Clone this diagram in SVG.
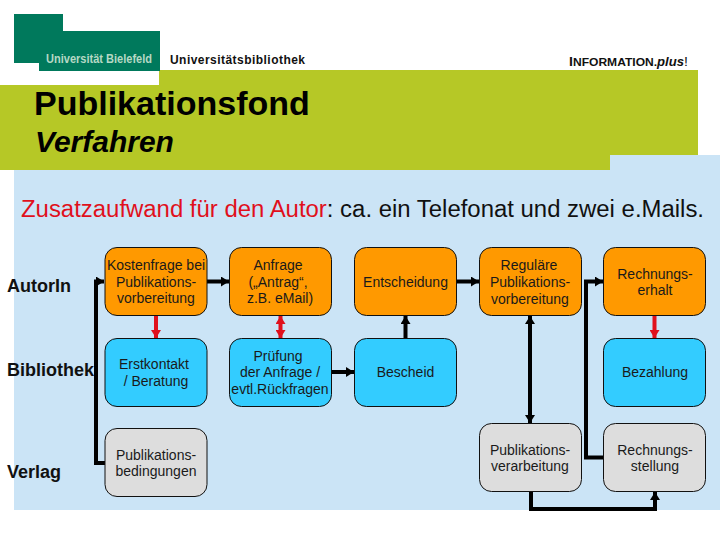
<svg xmlns="http://www.w3.org/2000/svg" width="720" height="540" viewBox="0 0 720 540">
<style>
text{font-family:"Liberation Sans",Arial,sans-serif}
.n{font-size:14px;fill:#1a1a1a;text-anchor:middle}
.o{fill:#ff9900;stroke:#111;stroke-width:1}
.b{fill:#33ccff;stroke:#111;stroke-width:1}
.g{fill:#dddddd;stroke:#111;stroke-width:1}
.l{font-size:18px;font-weight:bold;fill:#111}
.k{fill:none;stroke:#000;stroke-width:4}
.r{fill:none;stroke:#e0101c;stroke-width:4}
</style>
<defs>
<marker id="a" markerUnits="userSpaceOnUse" markerWidth="9" markerHeight="10" refX="8" refY="5" orient="auto-start-reverse"><path d="M0 0L8 5L0 10Z" fill="#000"/></marker>
<marker id="ar" markerUnits="userSpaceOnUse" markerWidth="9" markerHeight="10" refX="8" refY="5" orient="auto-start-reverse"><path d="M0 0L8 5L0 10Z" fill="#e0101c"/></marker>
</defs>
<rect width="720" height="540" fill="#fff"/>
<g id="background">
<rect x="14" y="170" width="706" height="340" fill="#cbe4f6"/>
<rect x="610" y="155" width="110" height="20" fill="#cbe4f6"/>
<path d="M0 85H159V70H698V155H610V170H0Z" fill="#b6c826"/>
<path d="M14 14H63V31H160V71H39V63H14Z" fill="#00795c"/>
</g>
<text x="46" y="63" font-size="13" font-weight="bold" fill="#b5d8c4" textLength="106" lengthAdjust="spacingAndGlyphs">Universität Bielefeld</text>
<text x="170" y="64" font-size="12" font-weight="bold" fill="#111" textLength="135">Universitätsbibliothek</text>
<text x="569" y="66" font-size="13.5" font-weight="bold" fill="#111" textLength="119" lengthAdjust="spacingAndGlyphs">I<tspan font-size="11.5">NFORMATION.</tspan><tspan font-style="italic" font-size="12.5">plus</tspan><tspan font-weight="normal">!</tspan></text>
<text x="34" y="115" font-size="34" font-weight="bold" fill="#000">Publikationsfond</text>
<text x="35" y="152" font-size="30" font-weight="bold" font-style="italic" fill="#000">Verfahren</text>
<text x="21" y="217" font-size="23" fill="#111" textLength="683" lengthAdjust="spacingAndGlyphs"><tspan fill="#e0101c">Zusatzaufwand für den Autor</tspan>: ca. ein Telefonat und zwei e.Mails.</text>
<text class="l" x="7" y="292">AutorIn</text>
<text class="l" x="7" y="376">Bibliothek</text>
<text class="l" x="7" y="478">Verlag</text>
<g id="connectors">
<path class="k" d="M105 463H96V281.500H104" marker-end="url(#a)"/>
<path class="k" d="M207 281.500H229" marker-end="url(#a)"/>
<path class="k" d="M332 372H354" marker-end="url(#a)"/>
<path class="k" d="M405.500 338V316" marker-end="url(#a)"/>
<path class="k" d="M457 281.500H479" marker-end="url(#a)"/>
<path class="k" d="M530 316V423" marker-start="url(#a)" marker-end="url(#a)"/>
<path class="k" d="M603 457.500H586V281.500H603" marker-end="url(#a)"/>
<path class="k" d="M531 492V509H655V492" marker-end="url(#a)"/>
<path class="r" d="M156 315V338" marker-end="url(#ar)"/>
<path class="r" d="M280.500 316V338" marker-start="url(#ar)" marker-end="url(#ar)"/>
<path class="r" d="M654.500 315V338" marker-end="url(#ar)"/>
</g>
<g id="n1"><rect class="o" x="105" y="247.500" width="102" height="68" rx="12"/><text class="n" x="156" y="270">Kostenfrage bei</text><text class="n" x="156" y="287">Publikations-</text><text class="n" x="156" y="303">vorbereitung</text></g>
<g id="n2"><rect class="o" x="229.500" y="247.500" width="102" height="68" rx="12"/><text class="n" x="278" y="270">Anfrage</text><text class="n" x="278" y="287">(„Antrag“,</text><text class="n" x="280" y="303">z.B. eMail)</text></g>
<g id="n3"><rect class="o" x="354.500" y="247.500" width="102" height="68" rx="12"/><text class="n" x="405.500" y="287">Entscheidung</text></g>
<g id="n4"><rect class="o" x="479.500" y="247.500" width="102" height="68" rx="12"/><text class="n" x="529" y="270">Reguläre</text><text class="n" x="530" y="287">Publikations-</text><text class="n" x="530" y="304">vorbereitung</text></g>
<g id="n5"><rect class="o" x="603.500" y="247.500" width="102" height="68" rx="12"/><text class="n" x="655" y="279">Rechnungs-</text><text class="n" x="655" y="295">erhalt</text></g>
<g id="n6"><rect class="b" x="105" y="338.500" width="102" height="68" rx="12"/><text class="n" x="154" y="369">Erstkontakt</text><text class="n" x="156" y="386">/ Beratung</text></g>
<g id="n7"><rect class="b" x="229.500" y="338.500" width="102" height="68" rx="12"/><text class="n" x="278" y="361">Prüfung</text><text class="n" x="280" y="377">der Anfrage /</text><text class="n" x="280" y="394" font-size="13.5">evtl.Rückfragen</text></g>
<g id="n8"><rect class="b" x="354.500" y="338.500" width="102" height="68" rx="12"/><text class="n" x="405.500" y="377">Bescheid</text></g>
<g id="n9"><rect class="b" x="603.500" y="338.500" width="102" height="68" rx="12"/><text class="n" x="655" y="377">Bezahlung</text></g>
<g id="n10"><rect class="g" x="105" y="428.500" width="102" height="68" rx="12"/><text class="n" x="156" y="460">Publikations-</text><text class="n" x="156" y="476">bedingungen</text></g>
<g id="n11"><rect class="g" x="479.500" y="423.500" width="102" height="68" rx="12"/><text class="n" x="530" y="455">Publikations-</text><text class="n" x="530" y="471">verarbeitung</text></g>
<g id="n12"><rect class="g" x="603.500" y="423.500" width="102" height="68" rx="12"/><text class="n" x="655" y="455">Rechnungs-</text><text class="n" x="655" y="471">stellung</text></g>
</svg>
